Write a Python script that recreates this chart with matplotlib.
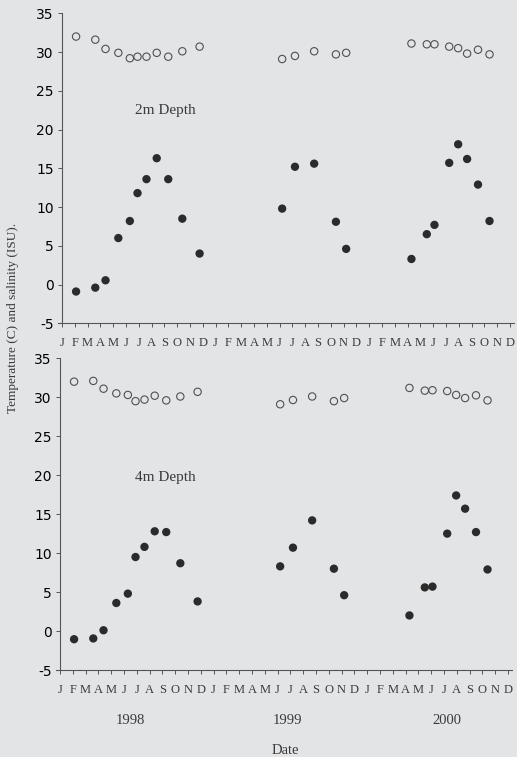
import matplotlib
matplotlib.use("Agg")
import matplotlib.pyplot as plt
import matplotlib.transforms as mtransforms

plt.rcParams["axes.unicode_minus"] = False

# ---- data ----
month_labels = ["J", "F", "M", "A", "M", "J", "J", "A", "S", "O", "N", "D"] * 3
years = ["1998", "1999", "2000"]
year_pos = [5.5, 17.8, 30.2]

# sampling dates as month index (0 = Jan 1998)
dates = [1.1, 2.6, 3.4, 4.4, 5.3, 5.9, 6.6, 7.4, 8.3, 9.4, 10.75,
         17.2, 18.2, 19.7, 21.4, 22.2,
         27.3, 28.5, 29.1, 30.25, 30.95, 31.65, 32.5, 33.4]

sal_2m = [32.0, 31.6, 30.4, 29.9, 29.2, 29.4, 29.4, 29.9, 29.4, 30.1, 30.7,
          29.1, 29.5, 30.1, 29.7, 29.9,
          31.1, 31.0, 31.0, 30.7, 30.5, 29.8, 30.3, 29.7]
temp_2m = [-0.9, -0.4, 0.55, 6.0, 8.2, 11.8, 13.6, 16.3, 13.6, 8.5, 4.0,
           9.8, 15.2, 15.6, 8.1, 4.6,
           3.3, 6.5, 7.7, 15.7, 18.1, 16.2, 12.9, 8.2]

sal_4m = [32.0, 32.1, 31.1, 30.5, 30.3, 29.5, 29.7, 30.2, 29.6, 30.1, 30.7,
          29.1, 29.65, 30.1, 29.5, 29.9,
          31.2, 30.85, 30.9, 30.8, 30.3, 29.9, 30.25, 29.6]
temp_4m = [-1.05, -0.95, 0.1, 3.6, 4.8, 9.5, 10.8, 12.8, 12.7, 8.7, 3.8,
           8.3, 10.7, 14.2, 8.0, 4.6,
           2.0, 5.6, 5.7, 12.5, 17.4, 15.7, 12.7, 7.9]

panels = [("2m Depth", sal_2m, temp_2m, (8.05, 22.5)),
          ("4m Depth", sal_4m, temp_4m, (8.25, 19.7))]

# ---- style ----
BG = "#e3e4e6"
INK = "#3a3a3a"
SERIF = ["Liberation Serif", "DejaVu Serif"]
SANS = ["Liberation Sans", "DejaVu Sans"]

W, H = 517, 757
fig = plt.figure(figsize=(W / 100, H / 100), dpi=100)
fig.patch.set_facecolor(BG)

step = 12.8
xlo, xhi = -0.3, 35.35
# (pixel x of month 0, pixel y of 35, pixel y of -5)
geo = [(62, 13.3, 323.3), (60, 358.3, 670)]

axes = []
for (x0, ytop, ybot), (label, sal, temp, tpos) in zip(geo, panels):
    left = (x0 + xlo * step) / W
    width = (xhi - xlo) * step / W
    bottom = 1 - ybot / H
    height = (ybot - ytop) / H
    ax = fig.add_axes([left, bottom, width, height])
    ax.set_facecolor(BG)
    ax.scatter(dates, sal, s=28, facecolors="none", edgecolors="#505050",
               linewidths=0.8, zorder=3)
    ax.scatter(dates, temp, s=36, color="#2b2b2b", edgecolors="none", zorder=3)
    ax.set_xlim(xlo, xhi)
    ax.set_ylim(-5, 35)
    ax.set_yticks(range(-5, 36, 5))
    ax.set_xticks(range(36))
    ax.set_xticklabels(month_labels, fontfamily=SERIF, fontsize=9, color=INK)
    for t in ax.get_yticklabels():
        t.set_fontfamily(SANS)
        t.set_fontsize(9.5)
        t.set_color(INK)
    ax.tick_params(axis="both", direction="out", length=3, width=0.7,
                   color="#555555")
    ax.tick_params(axis="x", pad=7)
    ax.tick_params(axis="y", pad=3)
    for s in ["top", "right"]:
        ax.spines[s].set_visible(False)
    ax.spines["left"].set_position(("data", 0))
    for s in ["left", "bottom"]:
        ax.spines[s].set_color("#555555")
        ax.spines[s].set_linewidth(0.8)
    ax.text(tpos[0], tpos[1], label, fontfamily=SERIF, fontsize=11,
            color=INK, ha="center", va="center")
    axes.append(ax)

# year labels under bottom panel
axb = axes[1]
trans = mtransforms.blended_transform_factory(axb.transData, fig.transFigure)
for yr, xp in zip(years, year_pos):
    fig.text(xp, 1 - 720 / H, yr, transform=trans, fontfamily=SERIF,
             fontsize=10.5, color=INK, ha="center", va="center")

fig.text(285 / W, 1 - 751 / H, "Date", fontfamily=SERIF, fontsize=10.5,
         color=INK, ha="center", va="center")
fig.text(13 / W, 1 - 318 / H, "Temperature (C) and salinity (ISU).",
         fontfamily=SERIF, fontsize=9.5, color=INK, rotation=90,
         ha="center", va="center")

fig.savefig("out.png", dpi=100, facecolor=BG)
